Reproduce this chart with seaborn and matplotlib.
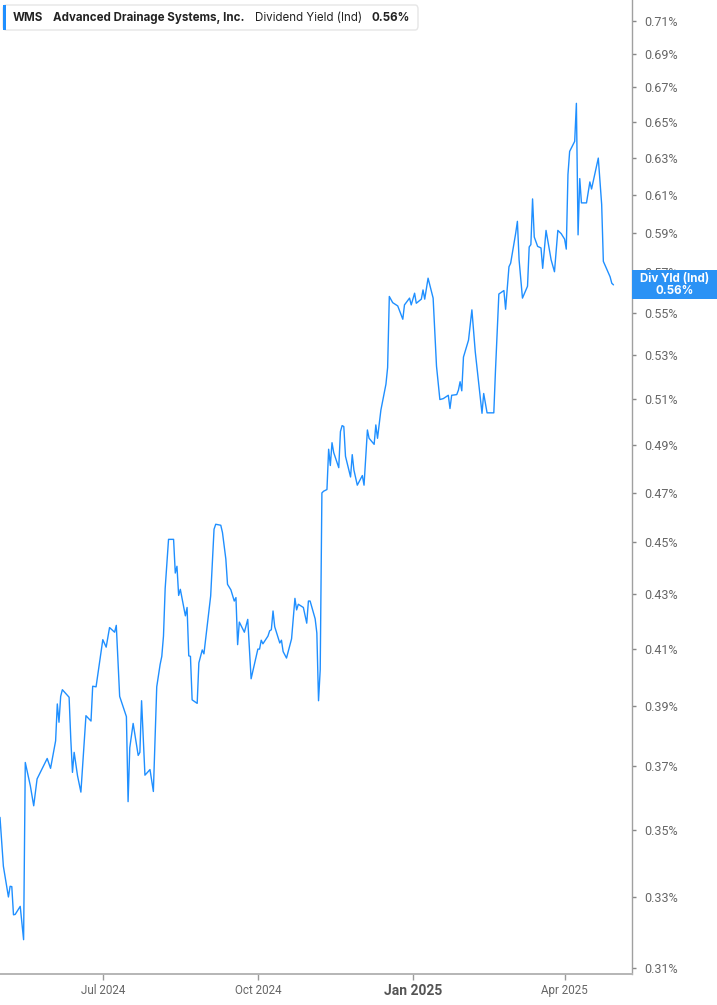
import numpy as np
import pandas as pd
import matplotlib
matplotlib.use("Agg")
import matplotlib.pyplot as plt
from matplotlib.patches import FancyBboxPatch, Rectangle
from matplotlib.ticker import NullLocator
import seaborn as sns


# data: day offsets from the first point, yield in %
start_date = "2024-05-01"
day_offsets = [
    0, 2, 5, 6, 7, 8, 9, 12, 14, 15, 18, 20, 22, 28, 30, 33, 34, 35, 36, 37,
    41, 42, 43, 44, 46, 48, 51, 54, 55, 57, 61, 63, 65, 68, 69, 71, 75, 76, 77, 79,
    82, 83, 84, 86, 89, 91, 93, 95, 96, 97, 98, 100, 103, 104, 105, 106, 107, 110, 111, 112,
    113, 114, 117, 118, 120, 121, 125, 127, 128, 131, 132, 134, 135, 137, 139, 140, 141, 142, 145, 147,
    149, 153, 154, 155, 156, 159, 160, 161, 162, 163, 166, 167, 168, 170, 173, 175, 176, 177, 180, 182,
    183, 184, 187, 188, 189, 190, 191, 192, 194, 195, 196, 197, 198, 201, 202, 203, 204, 205, 208, 209,
    210, 212, 215, 216, 218, 219, 222, 223, 224, 226, 229, 230, 231, 233, 236, 239, 240, 243, 244, 246,
    247, 250, 251, 252, 254, 257, 259, 261, 263, 266, 267, 268, 271, 272, 273, 274, 275, 278, 280, 282,
    286, 287, 289, 293, 294, 296, 299, 300, 302, 303, 306, 307, 308, 310, 313, 314, 315, 316, 317, 319,
    321, 322, 324, 327, 329, 331, 333, 335, 336, 337, 338, 341, 342, 343, 344, 345, 348, 350, 351, 355,
    357, 358, 362, 363, 364,
]
yield_pct = [
    0.3538, 0.3390, 0.3300, 0.3331, 0.3330, 0.3249, 0.3250, 0.3273, 0.3179, 0.3712,
    0.3637, 0.3574, 0.3659, 0.3725, 0.3693, 0.3783, 0.3907, 0.3845, 0.3933, 0.3956,
    0.3930, 0.3789, 0.3680, 0.3745, 0.3669, 0.3617, 0.3867, 0.3849, 0.3968, 0.3966,
    0.4133, 0.4106, 0.4177, 0.4160, 0.4185, 0.3933, 0.3864, 0.3587, 0.3760, 0.3841,
    0.3735, 0.3745, 0.3918, 0.3671, 0.3689, 0.3619, 0.3966, 0.4044, 0.4073, 0.4146,
    0.4322, 0.4512, 0.4512, 0.4381, 0.4407, 0.4296, 0.4319, 0.4220, 0.4251, 0.4075,
    0.4073, 0.3921, 0.3909, 0.4050, 0.4096, 0.4082, 0.4294, 0.4552, 0.4572, 0.4568,
    0.4539, 0.4435, 0.4338, 0.4317, 0.4275, 0.4288, 0.4115, 0.4197, 0.4160, 0.4207,
    0.3994, 0.4099, 0.4099, 0.4131, 0.4118, 0.4146, 0.4165, 0.4169, 0.4238, 0.4180,
    0.4121, 0.4131, 0.4090, 0.4067, 0.4136, 0.4285, 0.4242, 0.4263, 0.4251, 0.4193,
    0.4275, 0.4275, 0.4209, 0.4157, 0.3918, 0.4026, 0.4699, 0.4706, 0.4713, 0.4882,
    0.4813, 0.4910, 0.4868, 0.4804, 0.4958, 0.4984, 0.4980, 0.4852, 0.4765, 0.4859,
    0.4794, 0.4731, 0.4771, 0.4731, 0.4965, 0.4929, 0.4903, 0.4987, 0.4929, 0.5052,
    0.5168, 0.5244, 0.5580, 0.5550, 0.5534, 0.5470, 0.5539, 0.5572, 0.5539, 0.5596,
    0.5547, 0.5567, 0.5612, 0.5567, 0.5670, 0.5572, 0.5250, 0.5099, 0.5103, 0.5118,
    0.5059, 0.5118, 0.5121, 0.5141, 0.5179, 0.5138, 0.5292, 0.5371, 0.5515, 0.5316,
    0.5038, 0.5126, 0.5040, 0.5040, 0.5231, 0.5592, 0.5609, 0.5518, 0.5727, 0.5745,
    0.5898, 0.5959, 0.5762, 0.5572, 0.5630, 0.5827, 0.5839, 0.6077, 0.5878, 0.5830,
    0.5822, 0.5719, 0.5912, 0.5762, 0.5702, 0.5912, 0.5895, 0.5867, 0.5816, 0.6208,
    0.6335, 0.6391, 0.6607, 0.5889, 0.6186, 0.6056, 0.6056, 0.6168, 0.6130, 0.6298,
    0.6048, 0.5754, 0.5677, 0.5645, 0.5637,
]

y_ticks = [0.31, 0.33, 0.35, 0.37, 0.39, 0.41, 0.43, 0.45, 0.47, 0.49, 0.51,
           0.53, 0.55, 0.57, 0.59, 0.61, 0.63, 0.65, 0.67, 0.69, 0.71]
x_tick_dates = ["2024-07-01", "2024-10-01", "2025-01-01", "2025-04-01"]
x_tick_labels = ["Jul 2024", "Oct 2024", "Jan 2025", "Apr 2025"]

ticker = "WMS"
company = "Advanced Drainage Systems, Inc."
metric = "Dividend Yield (Ind)"
last_text = "0.56%"
badge_title = "Div Yld (Ind)"

LINE = "#1f8fff"
BADGE = "#2b92f5"
GREY_TXT = "#666666"
AXIS = "#b5b5b5"

W, H = 717, 1005

sns.set_theme(style="white")
plt.rcParams["font.family"] = ["Roboto", "DejaVu Sans"]

df = pd.DataFrame({
    "date": pd.Timestamp(start_date) + pd.to_timedelta(day_offsets, unit="D"),
    "yield": yield_pct,
})

fig = plt.figure(figsize=(W / 100, H / 100), dpi=100)
ax = fig.add_axes([0, 31 / H, 632 / W, 974 / H])

sns.lineplot(data=df, x="date", y="yield", ax=ax, color=LINE, lw=1.0)

ax.set_yscale("log")
ax.set_ylim(0.3085, 0.7232)
x0 = pd.Timestamp(start_date)
ax.set_xlim(x0, x0 + pd.Timedelta(days=375))

ax.yaxis.tick_right()
ax.set_yticks(y_ticks)
ax.set_yticklabels([f"{v:.2f}%" for v in y_ticks])
ax.yaxis.set_minor_locator(NullLocator())
ax.set_xticks(pd.to_datetime(x_tick_dates))
ax.set_xticklabels(x_tick_labels)
ax.set_xlabel("")
ax.set_ylabel("")

ax.tick_params(axis="y", which="major", right=True, length=3, width=1,
               color="#888888", labelcolor=GREY_TXT, labelsize=9, pad=6)
ax.tick_params(axis="x", which="major", bottom=True, length=4, width=1,
               color="#999999", labelcolor=GREY_TXT, labelsize=8.4, pad=3)
for lbl in ax.get_xticklabels():
    if lbl.get_text() == "Jan 2025":
        lbl.set_fontweight("bold")
        lbl.set_fontsize(10)
        lbl.set_color("#555555")

for side in ["top", "left"]:
    ax.spines[side].set_visible(False)
ax.spines["right"].set_color("#a0a0a0")
ax.spines["right"].set_linewidth(1.0)
ax.spines["bottom"].set_color(AXIS)
ax.spines["bottom"].set_linewidth(1.4)


def px(x, y):
    return x / W, 1 - y / H


# header box
hx0, hy0 = px(3, 30)
fig.patches.append(FancyBboxPatch((hx0, hy0), 415 / W, 25 / H,
                                  boxstyle="round,pad=0,rounding_size=0.004",
                                  transform=fig.transFigure, facecolor="white",
                                  edgecolor="#e6e6e6", lw=1.0, zorder=5))
fig.patches.append(Rectangle((hx0, hy0), 3 / W, 25 / H, transform=fig.transFigure,
                             facecolor=LINE, edgecolor="none", zorder=6))
head_font = ["Inter", "DejaVu Sans"]
fig.canvas.draw()
renderer = fig.canvas.get_renderer()
cursor = 13
for txt, wt in [(ticker, "bold"), (company, "bold"), (metric, "normal"), (last_text, "bold")]:
    fx, fy = px(cursor, 18)
    t = fig.text(fx, fy, txt, ha="left", va="center", fontsize=8.3, fontweight=wt,
                 color="#222222", family=head_font, zorder=7)
    cursor += t.get_window_extent(renderer).width + 10

# badge at the last value
last = df.iloc[-1]
_, ly = ax.transData.transform((matplotlib.dates.date2num(last["date"]), last["yield"]))
ly_px = H - ly
rx, ry = px(632, ly_px + 14.5)
fig.patches.append(Rectangle((rx, ry), (W - 632) / W, 29 / H, transform=fig.transFigure,
                             facecolor=BADGE, edgecolor="none", zorder=5))
tx, ty = px(675, ly_px - 6)
fig.text(tx, ty, badge_title, ha="center", va="center", fontsize=8.3,
         fontweight="bold", color="white", family=head_font, zorder=7)
tx, ty = px(675, ly_px + 6)
fig.text(tx, ty, last_text, ha="center", va="center", fontsize=8.3,
         fontweight="bold", color="white", family=head_font, zorder=7)

fig.savefig("out.png", dpi=100)
